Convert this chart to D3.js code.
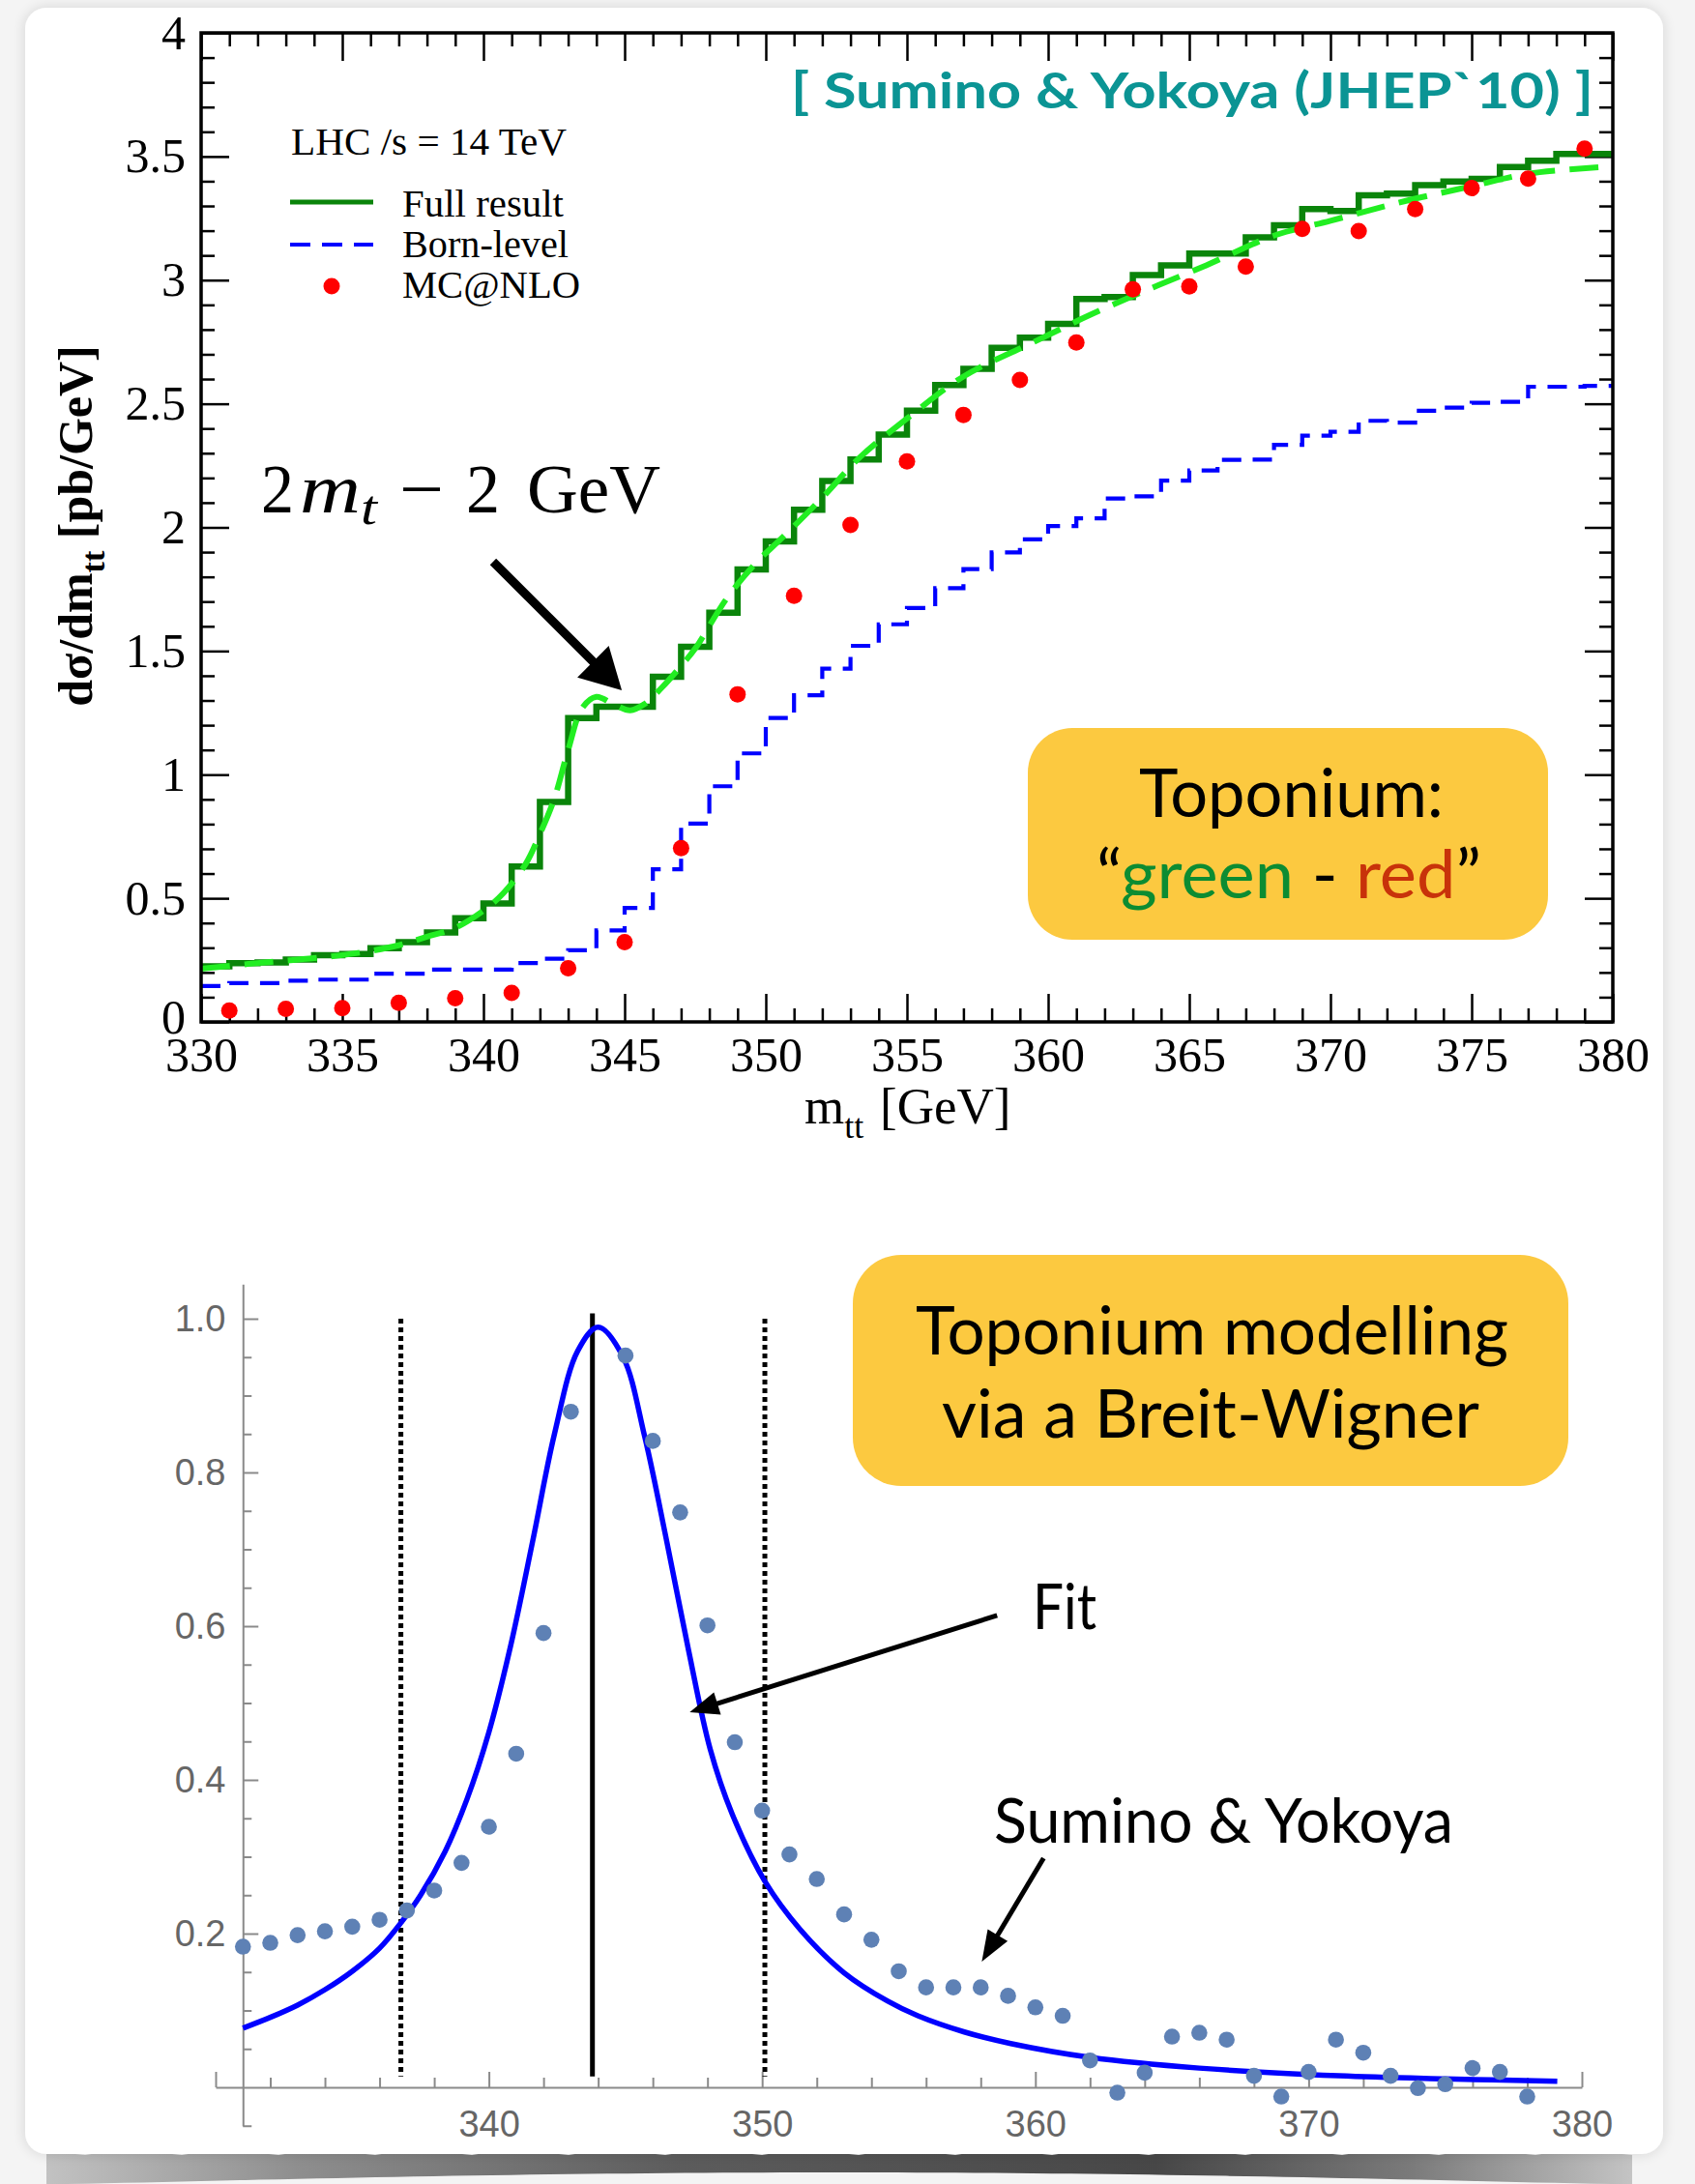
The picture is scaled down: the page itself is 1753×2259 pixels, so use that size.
<!DOCTYPE html>
<html>
<head>
<meta charset="utf-8">
<script src="https://cdn.jsdelivr.net/npm/d3@7"></script>
<style>
    html, body { margin: 0; padding: 0; background: #f4f4f4; }
    svg { display: block; }
</style>
</head>
<body>
<div id="chart"></div>
<script>
// ---------- top panel: d sigma / d m_tt ----------
const binEdges = [330, 331, 332, 333, 334, 335, 336, 337, 338, 339,
    340, 341, 342, 343, 344, 345, 346, 347, 348, 349,
    350, 351, 352, 353, 354, 355, 356, 357, 358, 359,
    360, 361, 362, 363, 364, 365, 366, 367, 368, 369,
    370, 371, 372, 373, 374, 375, 376, 377, 378, 379];
const fullResult = [0.225, 0.238, 0.240, 0.252, 0.270, 0.275, 0.298, 0.323, 0.362, 0.419,
    0.479, 0.629, 0.890, 1.229, 1.275, 1.275, 1.396, 1.517, 1.655, 1.830,
    1.943, 2.071, 2.188, 2.275, 2.375, 2.472, 2.576, 2.641, 2.726, 2.767,
    2.823, 2.924, 2.932, 3.021, 3.060, 3.108, 3.108, 3.173, 3.222, 3.287,
    3.280, 3.343, 3.350, 3.384, 3.399, 3.410, 3.457, 3.483, 3.510, 3.510];
const bornLevel = [0.145, 0.157, 0.157, 0.167, 0.171, 0.171, 0.195, 0.195, 0.212, 0.212,
    0.212, 0.238, 0.256, 0.290, 0.370, 0.461, 0.617, 0.802, 0.953, 1.086,
    1.229, 1.321, 1.429, 1.521, 1.608, 1.674, 1.754, 1.831, 1.899, 1.952,
    2.005, 2.037, 2.117, 2.126, 2.189, 2.230, 2.273, 2.274, 2.334, 2.371,
    2.387, 2.431, 2.424, 2.472, 2.484, 2.504, 2.508, 2.569, 2.569, 2.572];
const histEnd = 380;

// smooth (light green dashed) curve
const smoothX = [330, 332, 334, 335.5, 337, 338, 339, 340, 340.7, 341.5, 342, 342.5, 343, 343.5,
    344, 344.6, 345.2, 345.7, 346.3, 347, 347.5, 348.6, 349.6, 350.6, 352, 353.3, 355, 357,
    359.5, 361.5, 363.5, 365.6, 368, 370, 372.3, 375, 377, 380];
const smoothY = [0.215, 0.238, 0.258, 0.278, 0.31, 0.345, 0.38, 0.45, 0.52, 0.64, 0.76, 0.90, 1.10, 1.27,
    1.315, 1.285, 1.26, 1.285, 1.35, 1.44, 1.51, 1.71, 1.85, 1.96, 2.12, 2.28, 2.44, 2.61,
    2.75, 2.86, 2.96, 3.06, 3.18, 3.24, 3.31, 3.38, 3.43, 3.46];

// MC@NLO points
const mcnloX = [331, 333, 335, 337, 339, 341, 343, 345, 347, 349, 351, 353, 355,
    357, 359, 361, 363, 365, 367, 369, 371, 373, 375, 377, 379];
const mcnloY = [0.046, 0.053, 0.056, 0.077, 0.096, 0.117, 0.217, 0.323, 0.703, 1.325, 1.723, 2.010, 2.267,
    2.455, 2.596, 2.748, 2.963, 2.975, 3.055, 3.207, 3.198, 3.287, 3.372, 3.411, 3.532];

const topXMajor = [330, 335, 340, 345, 350, 355, 360, 365, 370, 375, 380];
const topXLabels = ['330', '335', '340', '345', '350', '355', '360', '365', '370', '375', '380'];
const topYMajor = [0, 0.5, 1, 1.5, 2, 2.5, 3, 3.5, 4];
const topYLabels = ['0', '0.5', '1', '1.5', '2', '2.5', '3', '3.5', '4'];

// ---------- bottom panel: Breit-Wigner ----------
const syX = [331, 332, 333, 334, 335, 336, 337, 338, 339, 340, 341, 342, 343,
    345, 346, 347, 348, 349, 350, 351, 352, 353, 354, 355, 356, 357, 358, 359, 360,
    361, 362, 363, 364, 365, 366, 367, 368, 369, 370, 371, 372, 373, 374, 375, 376, 377, 378];
const syY = [0.183, 0.188, 0.198, 0.203, 0.209, 0.218, 0.230, 0.256, 0.292, 0.339, 0.434, 0.591, 0.879,
    0.952, 0.841, 0.748, 0.601, 0.449, 0.360, 0.303, 0.271, 0.225, 0.192, 0.151, 0.130, 0.130, 0.130, 0.119, 0.104,
    0.093, 0.035, -0.007, 0.019, 0.066, 0.071, 0.062, 0.015, -0.012, 0.020, 0.062, 0.045, 0.015, -0.001, 0.004, 0.025, 0.020, -0.012];

const fitX = [331, 332, 333, 334, 335, 336, 336.78, 337.5, 338.4, 339.2, 340.0, 340.8, 341.6,
    342.4, 343.25, 344.0, 344.9, 345.7, 346.5, 347.3, 348.1, 348.9, 350.1, 351.4, 353.0,
    354.6, 355.7, 357.4, 359.1, 362.0, 366.0, 371.1, 375.0, 379.1];
const fitY = [0.077, 0.091, 0.107, 0.127, 0.151, 0.181, 0.214, 0.250, 0.307, 0.375, 0.462, 0.575, 0.710,
    0.850, 0.958, 0.989, 0.951, 0.847, 0.712, 0.570, 0.440, 0.356, 0.268, 0.205, 0.149,
    0.112, 0.093, 0.072, 0.057, 0.039, 0.025, 0.015, 0.011, 0.008];

const windowLines = [336.78, 350.1];
const peakLine = 343.79;

const botXMajor = [330, 340, 350, 360, 370, 380];
const botXLabels = ['', '340', '350', '360', '370', '380'];
const botXMinor = [332, 334, 336, 338, 342, 344, 346, 348, 352, 354, 356, 358,
    362, 364, 366, 368, 372, 374, 376, 378];
const botYMajor = [0.2, 0.4, 0.6, 0.8, 1.0];
const botYLabels = ['0.2', '0.4', '0.6', '0.8', '1.0'];
const botYMinor = [-0.05, 0.05, 0.1, 0.15, 0.25, 0.3, 0.35, 0.45, 0.5, 0.55,
    0.65, 0.7, 0.75, 0.85, 0.9, 0.95];

// ---------- drawing ----------
const width = 1753;
const height = 2259;
const serif = '"Liberation Serif", "Times New Roman", serif';
const gill = 'Lato, "Open Sans", sans-serif';

const svg = d3.select('#chart').append('svg')
    .attr('width', width)
    .attr('height', height)
    .attr('viewBox', `0 0 ${width} ${height}`);

const defs = svg.append('defs');
const shadow = defs.append('filter').attr('id', 'cardShadow')
    .attr('x', -0.05).attr('y', -0.05).attr('width', 1.1).attr('height', 1.1);
shadow.append('feGaussianBlur').attr('in', 'SourceAlpha').attr('stdDeviation', 7);
shadow.append('feComponentTransfer').append('feFuncA').attr('type', 'linear').attr('slope', 0.14);
const sm = shadow.append('feMerge');
sm.append('feMergeNode');
sm.append('feMergeNode').attr('in', 'SourceGraphic');

const tornGrad = defs.append('linearGradient').attr('id', 'tornGrad')
    .attr('x1', 0).attr('x2', 1).attr('y1', 0).attr('y2', 0);
[[0, '#c2c2c2'], [0.16, '#8e8e8e'], [0.4, '#5c5c5c'], [0.7, '#474747'], [0.86, '#7a7a7a'], [1, '#c4c4c4']]
    .forEach(([o, c]) => tornGrad.append('stop').attr('offset', o).attr('stop-color', c));

// torn paper edge under the card
const tornTop = [];
const tornBottom = [];
for (let i = 0; i <= 82; i++) {
    const x = 48 + i * 20;
    const t = i / 82;
    tornTop.push([x, 2227 + ((i * 7) % 5) - 2]);
    const b = 2259 - 12 * Math.sin(Math.PI * Math.min(1, Math.max(0, (t - 0.02) / 0.96)));
    tornBottom.push([x, b]);
}
svg.append('path')
    .attr('d', d3.line()(tornTop.concat(tornBottom.reverse())) + 'Z')
    .attr('fill', 'url(#tornGrad)');

// card
svg.append('rect')
    .attr('x', 26).attr('y', 8)
    .attr('width', 1694).attr('height', 2220)
    .attr('rx', 22)
    .attr('fill', '#ffffff')
    .attr('filter', 'url(#cardShadow)');

// ======== TOP CHART ========
const xTop = d3.scaleLinear().domain([330, 380]).range([208, 1668]);
const yTop = d3.scaleLinear().domain([0, 4]).range([1057, 34]);
const topG = svg.append('g').attr('class', 'top-chart');

function styleTicks(g, size, font, color) {
    g.select('.domain').remove();
    g.selectAll('.tick line').attr('stroke', color).attr('stroke-width', 2.5);
    g.attr('font-size', size).attr('font-family', font);
    g.selectAll('.tick text').attr('fill', color);
}

const topMinorX = d3.range(330, 381).filter((v) => v % 5 !== 0);
const topMinorY = d3.range(0, 41).map((v) => v / 10).filter((v, i) => i % 5 !== 0);

topG.append('g').attr('transform', `translate(0,${yTop(0)})`)
    .call(d3.axisBottom(xTop).tickValues(topXMajor).tickSize(-29).tickPadding(15)
        .tickFormat((d, i) => topXLabels[i]))
    .call((g) => styleTicks(g, 50, serif, '#000'));
topG.append('g').attr('transform', `translate(0,${yTop(0)})`)
    .call(d3.axisBottom(xTop).tickValues(topMinorX).tickSize(-14).tickFormat(''))
    .call((g) => styleTicks(g, 50, serif, '#000'));
topG.append('g').attr('transform', `translate(0,${yTop(4)})`)
    .call(d3.axisTop(xTop).tickValues(topXMajor).tickSize(-29).tickFormat(''))
    .call((g) => styleTicks(g, 50, serif, '#000'));
topG.append('g').attr('transform', `translate(0,${yTop(4)})`)
    .call(d3.axisTop(xTop).tickValues(topMinorX).tickSize(-14).tickFormat(''))
    .call((g) => styleTicks(g, 50, serif, '#000'));
topG.append('g').attr('transform', `translate(${xTop(330)},0)`)
    .call(d3.axisLeft(yTop).tickValues(topYMajor).tickSize(-29).tickPadding(16)
        .tickFormat((d, i) => topYLabels[i]))
    .call((g) => styleTicks(g, 50, serif, '#000'))
    // the "0" sits just above the "330" of the x axis
    .call((g) => g.selectAll('.tick text').filter((d) => d === 0).attr('dy', '0.22em'));
topG.append('g').attr('transform', `translate(${xTop(330)},0)`)
    .call(d3.axisLeft(yTop).tickValues(topMinorY).tickSize(-14).tickFormat(''))
    .call((g) => styleTicks(g, 49, serif, '#000'));
topG.append('g').attr('transform', `translate(${xTop(380)},0)`)
    .call(d3.axisRight(yTop).tickValues(topYMajor).tickSize(-29).tickFormat(''))
    .call((g) => styleTicks(g, 49, serif, '#000'));
topG.append('g').attr('transform', `translate(${xTop(380)},0)`)
    .call(d3.axisRight(yTop).tickValues(topMinorY).tickSize(-14).tickFormat(''))
    .call((g) => styleTicks(g, 49, serif, '#000'));

const stepLine = d3.line()
    .x((d) => xTop(d[0]))
    .y((d) => yTop(d[1]))
    .curve(d3.curveStepAfter);
const stepPts = (vals) => binEdges.map((b, i) => [b, vals[i]]).concat([[histEnd, vals[vals.length - 1]]]);

// Born-level (blue dashed)
topG.append('path')
    .attr('d', stepLine(stepPts(bornLevel)))
    .attr('fill', 'none')
    .attr('stroke', '#0000ff')
    .attr('stroke-width', 4.2)
    .attr('stroke-dasharray', '20 12');

// Full result (dark green histogram)
topG.append('path')
    .attr('d', stepLine(stepPts(fullResult)))
    .attr('fill', 'none')
    .attr('stroke', '#0a840a')
    .attr('stroke-width', 6.5)
    .attr('stroke-linejoin', 'miter');

// smooth light green dashed curve
topG.append('path')
    .attr('d', d3.line().x((d) => xTop(d[0])).y((d) => yTop(d[1])).curve(d3.curveCatmullRom.alpha(0.5))(
        smoothX.map((x, i) => [x, smoothY[i]])))
    .attr('fill', 'none')
    .attr('stroke', '#22ee22')
    .attr('stroke-width', 6)
    .attr('stroke-dasharray', '30 15');

// MC@NLO
topG.selectAll('circle.mcnlo')
    .data(mcnloX.map((x, i) => ({ x, y: mcnloY[i] })))
    .join('circle')
    .attr('class', 'mcnlo')
    .attr('cx', (d) => xTop(d.x))
    .attr('cy', (d) => yTop(d.y))
    .attr('r', 8.5)
    .attr('fill', '#ff0000');

// frame
topG.append('rect')
    .attr('x', xTop(330)).attr('y', yTop(4))
    .attr('width', xTop(380) - xTop(330))
    .attr('height', yTop(0) - yTop(4))
    .attr('fill', 'none')
    .attr('stroke', '#000')
    .attr('stroke-width', 3.5);

// axis titles
const xt = topG.append('text')
    .attr('x', 832).attr('y', 1162)
    .attr('font-family', serif).attr('font-size', 53).attr('fill', '#000');
xt.append('tspan').text('m');
xt.append('tspan').attr('font-size', 36).attr('dy', 15).text('tt');
xt.append('tspan').attr('x', 910).attr('dy', -15).text('[GeV]');

const yt = topG.append('text')
    .attr('transform', 'translate(95,544) rotate(-90)')
    .attr('text-anchor', 'middle')
    .attr('font-family', serif).attr('font-size', 50).attr('font-weight', 700).attr('fill', '#000');
yt.append('tspan').text('dσ/dm');
yt.append('tspan').attr('font-size', 34).attr('dy', 13).text('tt');
yt.append('tspan').attr('dy', -13).text(' [pb/GeV]');

// legend
const legendFont = 41;
topG.append('text').attr('x', 301).attr('y', 160)
    .attr('font-family', serif).attr('font-size', legendFont).attr('fill', '#000')
    .attr('textLength', 285).attr('lengthAdjust', 'spacingAndGlyphs')
    .text('LHC /s = 14 TeV');
topG.append('line').attr('x1', 300).attr('x2', 386).attr('y1', 209).attr('y2', 209)
    .attr('stroke', '#0a840a').attr('stroke-width', 5);
topG.append('text').attr('x', 416).attr('y', 224)
    .attr('font-family', serif).attr('font-size', legendFont)
    .attr('textLength', 167).attr('lengthAdjust', 'spacingAndGlyphs').text('Full result');
topG.append('line').attr('x1', 300).attr('x2', 386).attr('y1', 253).attr('y2', 253)
    .attr('stroke', '#0000ff').attr('stroke-width', 4).attr('stroke-dasharray', '21 12');
topG.append('text').attr('x', 416).attr('y', 266)
    .attr('font-family', serif).attr('font-size', legendFont)
    .attr('textLength', 172).attr('lengthAdjust', 'spacingAndGlyphs').text('Born-level');
topG.append('circle').attr('cx', 343).attr('cy', 296).attr('r', 8.5).attr('fill', '#ff0000');
topG.append('text').attr('x', 416).attr('y', 308)
    .attr('font-family', serif).attr('font-size', legendFont)
    .attr('textLength', 184).attr('lengthAdjust', 'spacingAndGlyphs').text('MC@NLO');

// citation
topG.append('text').attr('x', 818).attr('y', 112)
    .attr('font-family', gill).attr('font-weight', 700).attr('font-size', 51)
    .attr('fill', '#0b9494')
    .attr('textLength', 830).attr('lengthAdjust', 'spacingAndGlyphs')
    .text('[ Sumino & Yokoya (JHEP`10) ]');

// 2 m_t - 2 GeV
const mathPieces = [
    { t: '2', x: 270, w: 34, y: 530, size: 72, italic: false },
    { t: 'm', x: 310, w: 63, y: 530, size: 72, italic: true },
    { t: 't', x: 373, w: 17, y: 542, size: 50, italic: true },
    { t: '−', x: 413, w: 46, y: 530, size: 72, italic: false },
    { t: '2', x: 482, w: 35, y: 530, size: 72, italic: false },
    { t: 'GeV', x: 545, w: 138, y: 530, size: 72, italic: false }
];
topG.selectAll('text.math')
    .data(mathPieces)
    .join('text')
    .attr('class', 'math')
    .attr('x', (d) => d.x).attr('y', (d) => d.y)
    .attr('font-family', serif)
    .attr('font-size', (d) => d.size)
    .attr('font-style', (d) => (d.italic ? 'italic' : 'normal'))
    .attr('textLength', (d) => d.w)
    .attr('lengthAdjust', 'spacingAndGlyphs')
    .text((d) => d.t);

function arrow(g, x1, y1, x2, y2, lw, headLen, headW) {
    const a = Math.atan2(y2 - y1, x2 - x1);
    const bx = x2 - headLen * Math.cos(a);
    const by = y2 - headLen * Math.sin(a);
    g.append('line')
        .attr('x1', x1).attr('y1', y1).attr('x2', bx + 2 * Math.cos(a)).attr('y2', by + 2 * Math.sin(a))
        .attr('stroke', '#000').attr('stroke-width', lw);
    const px = -Math.sin(a) * headW / 2;
    const py = Math.cos(a) * headW / 2;
    g.append('path')
        .attr('d', `M${x2},${y2}L${bx + px},${by + py}L${bx - px},${by - py}Z`)
        .attr('fill', '#000');
}
arrow(topG, xTop(340.34), yTop(1.861), xTop(344.9), yTop(1.341), 9, 42, 46);

// Toponium box (top)
topG.append('rect')
    .attr('x', 1063).attr('y', 753).attr('width', 538).attr('height', 219)
    .attr('rx', 46).attr('fill', '#fcc940');
topG.append('text').attr('x', 1178).attr('y', 845)
    .attr('font-family', gill).attr('font-size', 70).attr('fill', '#000')
    .attr('textLength', 315).attr('lengthAdjust', 'spacingAndGlyphs')
    .text('Toponium:');
const gr = topG.append('text').attr('x', 1134).attr('y', 929)
    .attr('font-family', gill).attr('font-size', 70).attr('fill', '#000')
    .attr('textLength', 398).attr('lengthAdjust', 'spacingAndGlyphs');
gr.append('tspan').text('“');
gr.append('tspan').attr('fill', '#0c8c32').text('green');
gr.append('tspan').text(' - ');
gr.append('tspan').attr('fill', '#c8320a').text('red');
gr.append('tspan').text('”');

// ======== BOTTOM CHART ========
const xBot = d3.scaleLinear().domain([330, 380]).range([223, 1636]);
const yBot = d3.scaleLinear().domain([0, 1]).range([2159, 1364]);
const yBotAxis = d3.scaleLinear().domain([-0.05, 1.045]).range([yBot(-0.05), yBot(1.045)]);
const botG = svg.append('g').attr('class', 'bottom-chart');
const axisGrey = '#8a8a8a';
const labelGrey = '#666666';

function styleBot(g, keepDomain) {
    if (!keepDomain) g.select('.domain').remove();
    g.select('.domain').attr('stroke', axisGrey).attr('stroke-width', 2);
    g.selectAll('.tick line').attr('stroke', axisGrey).attr('stroke-width', 2);
    g.attr('font-size', 38).attr('font-family', '"Liberation Sans", Arial, sans-serif');
    g.selectAll('.tick text').attr('fill', labelGrey);
}

botG.append('g').attr('transform', `translate(0,${yBot(0)})`)
    .call(d3.axisBottom(xBot).tickValues(botXMajor).tickSize(-16).tickSizeOuter(0).tickPadding(24.5)
        .tickFormat((d, i) => botXLabels[i]))
    .call((g) => styleBot(g, true));
botG.append('g').attr('transform', `translate(0,${yBot(0)})`)
    .call(d3.axisBottom(xBot).tickValues(botXMinor).tickSize(-10).tickFormat(''))
    .call((g) => styleBot(g, false));
botG.append('g').attr('transform', `translate(${xBot(331)},0)`)
    .call(d3.axisLeft(yBotAxis).tickValues(botYMajor).tickSize(-16).tickSizeOuter(0).tickPadding(17.75)
        .tickFormat((d, i) => botYLabels[i]))
    .call((g) => styleBot(g, true));
botG.append('g').attr('transform', `translate(${xBot(331)},0)`)
    .call(d3.axisLeft(yBotAxis).tickValues(botYMinor).tickSize(-9).tickFormat(''))
    .call((g) => styleBot(g, false));

// window and peak lines
botG.selectAll('line.window')
    .data(windowLines)
    .join('line')
    .attr('class', 'window')
    .attr('x1', (d) => xBot(d)).attr('x2', (d) => xBot(d))
    .attr('y1', yBot(1.0)).attr('y2', yBot(0.014))
    .attr('stroke', '#000').attr('stroke-width', 5)
    .attr('stroke-dasharray', '5 4');
botG.append('line')
    .attr('x1', xBot(peakLine)).attr('x2', xBot(peakLine))
    .attr('y1', yBot(1.007)).attr('y2', yBot(0.014))
    .attr('stroke', '#000').attr('stroke-width', 5);

// Breit-Wigner fit
botG.append('path')
    .attr('d', d3.line().x((d) => xBot(d[0])).y((d) => yBot(d[1])).curve(d3.curveCatmullRom.alpha(0.5))(
        fitX.map((x, i) => [x, fitY[i]])))
    .attr('fill', 'none')
    .attr('stroke', '#0000ff')
    .attr('stroke-width', 5.5);

// Sumino & Yokoya points
botG.selectAll('circle.sy')
    .data(syX.map((x, i) => ({ x, y: syY[i] })))
    .join('circle')
    .attr('class', 'sy')
    .attr('cx', (d) => xBot(d.x))
    .attr('cy', (d) => yBot(d.y))
    .attr('r', 8.3)
    .attr('fill', '#5e81b5');

// annotations
botG.append('rect')
    .attr('x', 882).attr('y', 1298).attr('width', 740).attr('height', 239)
    .attr('rx', 50).attr('fill', '#fcc940');
botG.append('text').attr('x', 947).attr('y', 1401)
    .attr('font-family', gill).attr('font-size', 70).attr('fill', '#000')
    .attr('textLength', 613).attr('lengthAdjust', 'spacingAndGlyphs')
    .text('Toponium modelling');
botG.append('text').attr('x', 974).attr('y', 1487)
    .attr('font-family', gill).attr('font-size', 70).attr('fill', '#000')
    .attr('textLength', 556).attr('lengthAdjust', 'spacingAndGlyphs')
    .text('via a Breit-Wigner');

botG.append('text').attr('x', 1068).attr('y', 1685)
    .attr('font-family', gill).attr('font-size', 66).attr('fill', '#000')
    .attr('textLength', 66).attr('lengthAdjust', 'spacingAndGlyphs')
    .text('Fit');
arrow(botG, xBot(358.6), yBot(0.614), xBot(347.35), yBot(0.488), 5, 30, 24);

botG.append('text').attr('x', 1028).attr('y', 1906)
    .attr('font-family', gill).attr('font-size', 64).attr('fill', '#000')
    .attr('textLength', 475).attr('lengthAdjust', 'spacingAndGlyphs')
    .text('Sumino & Yokoya');
arrow(botG, xBot(360.3), yBot(0.298), xBot(358.04), yBot(0.1635), 5, 32, 24);
</script>
</body>
</html>
